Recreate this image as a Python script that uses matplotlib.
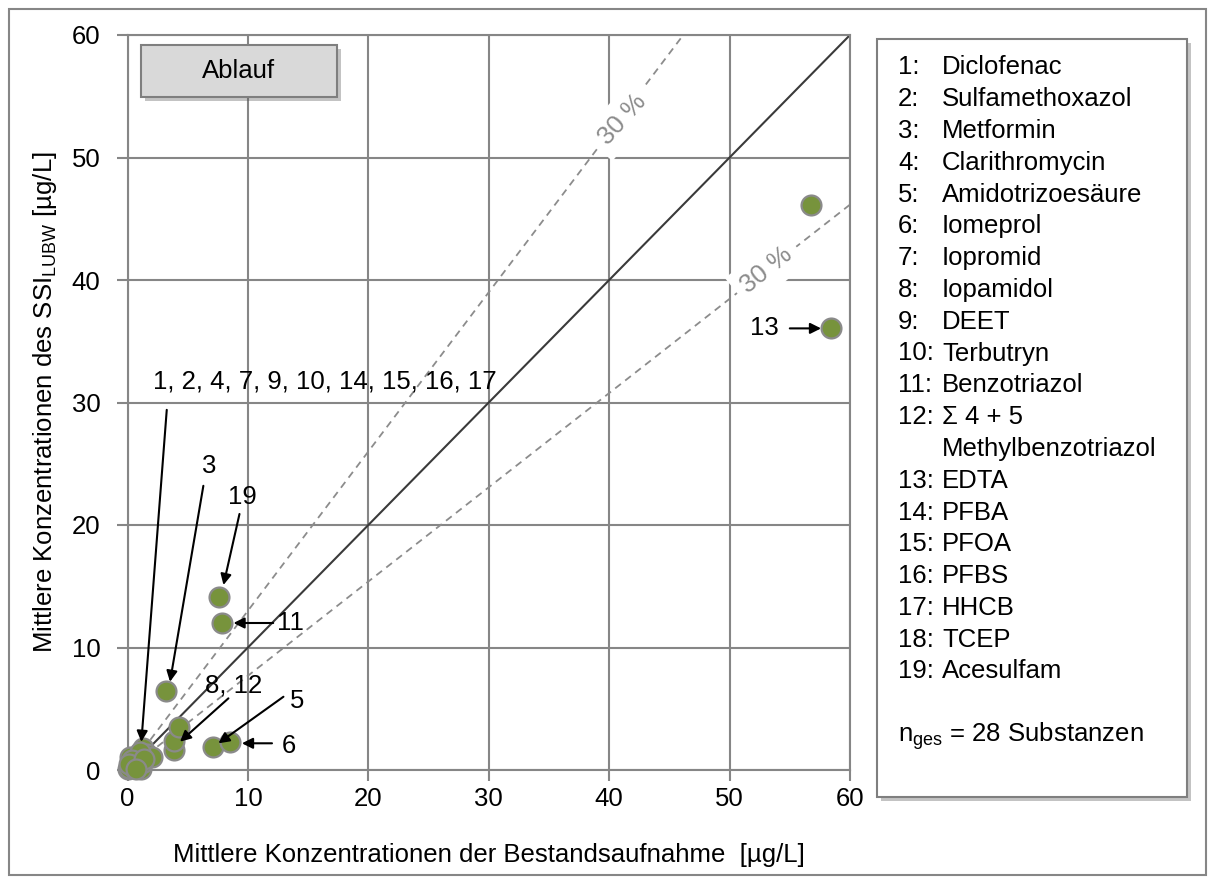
import matplotlib
matplotlib.use('Agg')
import matplotlib.pyplot as plt
from matplotlib.patches import Rectangle
import matplotlib.patheffects as pe

plt.rcParams['font.family'] = ['Liberation Sans', 'DejaVu Sans']
plt.rcParams['mathtext.fontset'] = 'custom'
plt.rcParams['mathtext.rm'] = 'Liberation Sans'
plt.rcParams['mathtext.it'] = 'Liberation Sans:italic'
plt.rcParams['mathtext.bf'] = 'Liberation Sans:bold'

# ---------------- data ----------------
x_bestand = [0.05, 0.15, 0.3, 0.2, 0.6, 0.9, 1.1, 1.2, 1.3, 1.6, 2.0, 0.5, 0.8, 1.0, 0.4,
             0.1, 1.4, 0.7,
             3.9, 3.85, 4.3, 3.2, 7.1, 8.5, 7.63, 7.83, 56.8, 58.45]
y_ssi = [0.05, 0.15, 0.4, 1.1, 0.7, 1.1, 0.1, 0.6, 1.8, 1.3, 1.1, 0.2, 0.4, 1.5, 0.8,
         0.5, 0.9, 0.05,
         1.6, 2.35, 3.5, 6.45, 1.9, 2.25, 14.15, 12.0, 46.1, 36.05]

legend_numbers = ['1:', '2:', '3:', '4:', '5:', '6:', '7:', '8:', '9:', '10:', '11:',
                  '12:', '', '13:', '14:', '15:', '16:', '17:', '18:', '19:']
legend_names = ['Diclofenac', 'Sulfamethoxazol', 'Metformin', 'Clarithromycin',
                'Amidotrizoesäure', 'Iomeprol', 'Iopromid', 'Iopamidol', 'DEET',
                'Terbutryn', 'Benzotriazol', 'Σ 4 + 5', 'Methylbenzotriazol', 'EDTA',
                'PFBA', 'PFOA', 'PFBS', 'HHCB', 'TCEP', 'Acesulfam']

ticks = [0, 10, 20, 30, 40, 50, 60]
band_factor = 1.3

# ---------------- figure ----------------
W, H = 1215, 884
fig = plt.figure(figsize=(W / 100, H / 100), dpi=100)


def fx(px):
    return px / W


def fy(py):
    return 1 - py / H


GRAY = '#868686'
FS = 18.5

ax = fig.add_axes([fx(127.5), fy(770), (850 - 127.5) / W, (770 - 35) / H])
ax.set_xlim(0, 60)
ax.set_ylim(0, 60)
ax.set_xticks(ticks)
ax.set_yticks(ticks)
ax.grid(True, color=GRAY, lw=1.5, zorder=0)
ax.set_axisbelow(True)
for s in ax.spines.values():
    s.set_color(GRAY)
    s.set_linewidth(1.5)
ax.tick_params(axis='both', direction='out', length=8, width=1.5, color=GRAY,
               labelsize=FS)
ax.tick_params(axis='y', pad=11.5)
ax.tick_params(axis='x', pad=4)

fig.text(fx(489), fy(855), 'Mittlere Konzentrationen der Bestandsaufnahme  [µg/L]',
         fontsize=FS, ha='center', va='center')
fig.text(fx(45), fy(402), r'Mittlere Konzentrationen des SSI$_{\mathrm{LUBW}}$ [µg/L]',
         fontsize=FS, ha='center', va='center', rotation=90)

# reference lines
ax.plot([0, 60], [0, 60], color='#3a3a3a', lw=1.5, zorder=2)
ax.plot([0, 60 / band_factor], [0, 60], color='#8c8c8c', lw=1.3, ls=(0, (4, 3)), zorder=2)
ax.plot([0, 60], [0, 60 / band_factor], color='#8c8c8c', lw=1.3, ls=(0, (4, 3)), zorder=2)

box = dict(facecolor='white', edgecolor='none', pad=6)
ax.text(41.1, 53.1, '30 %', color='#8c8c8c', fontsize=FS, rotation=48,
        ha='center', va='center', bbox=box, zorder=3, rotation_mode='anchor')
ax.text(53.1, 40.8, '30 %', color='#8c8c8c', fontsize=FS, rotation=39,
        ha='center', va='center', bbox=box, zorder=3, rotation_mode='anchor')

# points
ax.scatter(x_bestand, y_ssi, s=205, color='#77933C', edgecolor='#8a8a8a',
           linewidth=1.6, zorder=4, clip_on=False)

# annotations
arrow = dict(arrowstyle='-|>', color='black', lw=1.5, mutation_scale=16,
             shrinkA=0, shrinkB=0)
annots = [
    ('1, 2, 4, 7, 9, 10, 14, 15, 16, 17', (2.1, 31.7), 'left', (3.26, 29.4), (1.15, 2.3)),
    ('3', (6.8, 24.8), 'center', (6.3, 23.2), (3.53, 7.2)),
    ('19', (9.5, 22.3), 'center', (9.3, 20.9), (7.97, 15.1)),
    ('11', (12.4, 12.0), 'left', (12.1, 12.0), (8.8, 12.0)),
    ('8, 12', (6.45, 6.9), 'left', (8.38, 5.85), (4.36, 2.31)),
    ('5', (13.5, 5.6), 'left', (12.95, 5.98), (7.55, 2.18)),
    ('6', (12.8, 1.95), 'left', (12.0, 2.18), (9.5, 2.18)),
    ('13', (54.1, 36.05), 'right', (55.0, 36.05), (57.6, 36.05)),
]
for txt, pos, ha, tail, head in annots:
    ax.text(pos[0], pos[1], txt, fontsize=FS, ha=ha, va='center', zorder=6)
    ax.annotate('', xy=head, xytext=tail, arrowprops=arrow, zorder=6)

# Ablauf box
shadow = [pe.withSimplePatchShadow(offset=(3, -3), shadow_rgbFace='#555555', alpha=0.35)]
ab = Rectangle((fx(141), fy(97)), (337 - 141) / W, (97 - 45) / H, transform=fig.transFigure,
               facecolor='#d9d9d9', edgecolor='#7f7f7f', lw=1.5, path_effects=shadow,
               zorder=5)
fig.add_artist(ab)
fig.text(fx(239), fy(71), 'Ablauf', fontsize=FS, ha='center', va='center', zorder=6)

# legend box
lg = Rectangle((fx(877), fy(797)), (1187 - 877) / W, (797 - 39) / H,
               transform=fig.transFigure, facecolor='white', edgecolor='#7f7f7f', lw=1.5,
               path_effects=shadow, zorder=5)
fig.add_artist(lg)
base0 = 74.3
step = 31.8
for i, (num, name) in enumerate(zip(legend_numbers, legend_names)):
    yb = base0 + i * step
    if num:
        fig.text(fx(898), fy(yb), num, fontsize=FS, ha='left', va='baseline', zorder=6)
    fig.text(fx(942), fy(yb), name, fontsize=FS, ha='left', va='baseline', zorder=6)
fig.text(fx(898), fy(base0 + 21 * step), r'n$_{\mathrm{ges}}$ = 28 Substanzen', fontsize=FS,
         ha='left', va='baseline', zorder=6)

# outer border
fig.add_artist(Rectangle((fx(9), fy(875)), (1206 - 9) / W, (875 - 9) / H,
                         transform=fig.transFigure, facecolor='none', edgecolor=GRAY,
                         lw=1.5, zorder=0))

fig.savefig('out.png', dpi=100)
